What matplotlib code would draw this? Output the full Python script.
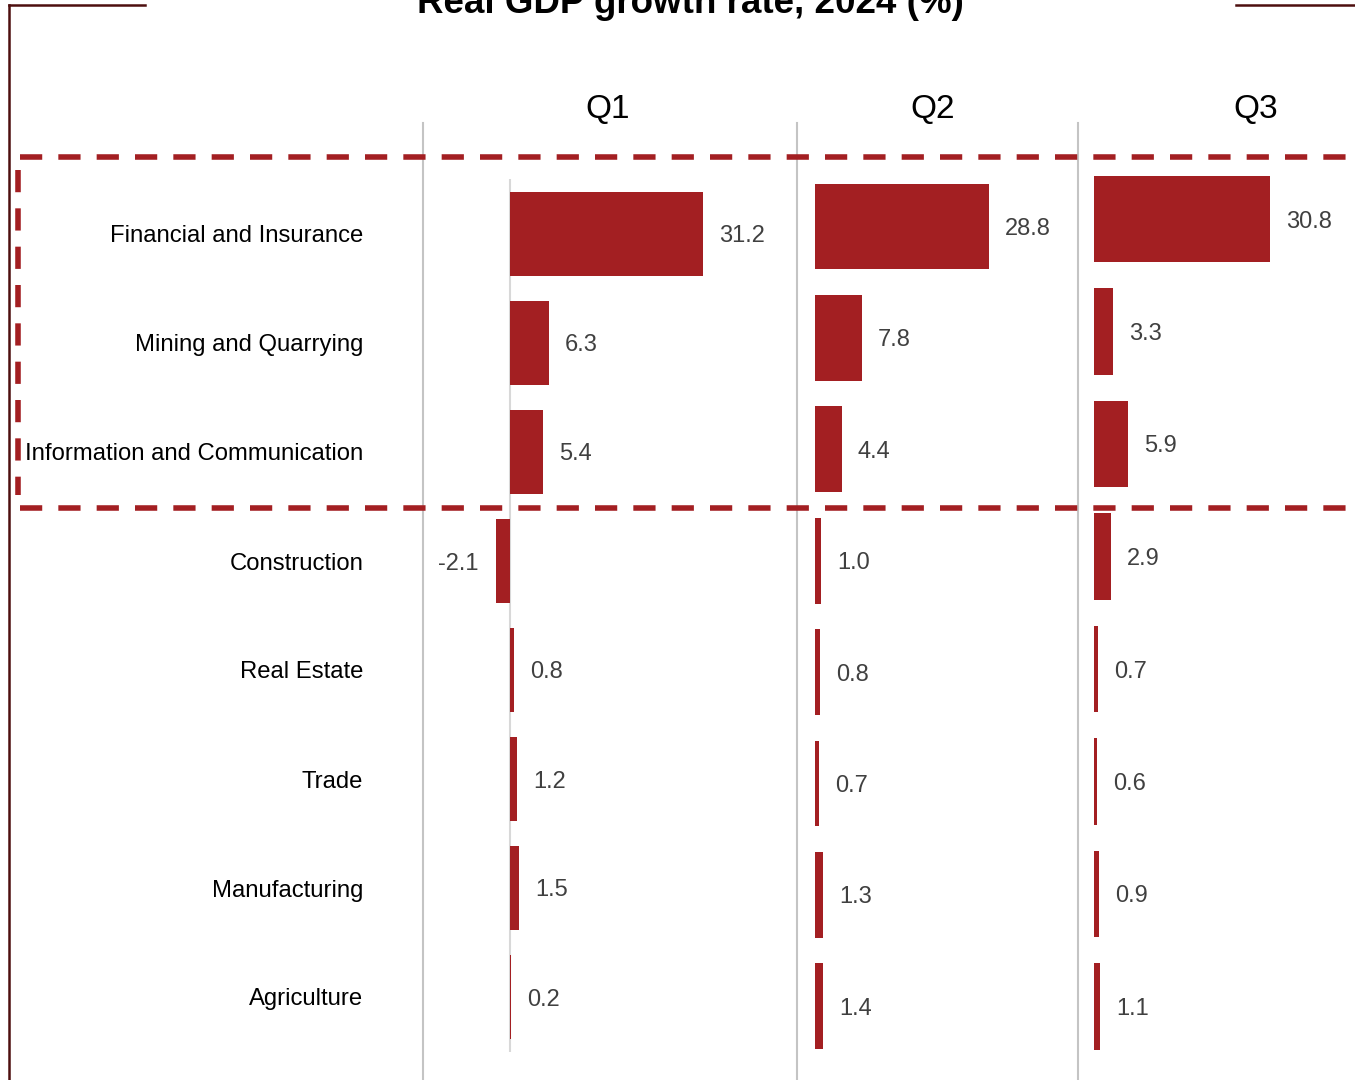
import numpy as np
import matplotlib.pyplot as plt
from matplotlib.lines import Line2D

plt.rcParams['font.family'] = ['Liberation Sans', 'DejaVu Sans']

# data
sectors = ['Financial and Insurance', 'Mining and Quarrying', 'Information and Communication',
           'Construction', 'Real Estate', 'Trade', 'Manufacturing', 'Agriculture']
quarters = ['Q1', 'Q2', 'Q3']
q1 = [31.2, 6.3, 5.4, -2.1, 0.8, 1.2, 1.5, 0.2]
q2 = [28.8, 7.8, 4.4, 1.0, 0.8, 0.7, 1.3, 1.4]
q3 = [30.8, 3.3, 5.9, 2.9, 0.7, 0.6, 0.9, 1.1]
title = 'Real GDP growth rate, 2024 (%)'

W, H = 1355, 1080
red = '#a31f22'
maroon = '#4d0f0f'
grey = '#c4c4c4'

fig = plt.figure(figsize=(W / 100, H / 100), dpi=100)

def fx(x):
    return x / W

def fy(y):
    return 1 - y / H

# panel geometry in pixels: left, right, zero x, px per unit, first row centre, row step
panels = [(423, 797, 509.5, 6.2, 234, 109),
          (797, 1078, 815, 6.04, 226.5, 111.4),
          (1078, 1355, 1094, 5.72, 219, 112.5)]
q_x = [608, 933, 1256]

pos = np.arange(len(sectors))
for k, (vals, (l, r, z, ppu, c0, step)) in enumerate(zip([q1, q2, q3], panels)):
    top = c0 - step / 2
    bot = c0 + (len(sectors) - 0.5) * step
    ax = fig.add_axes([fx(l), fy(bot), (r - l) / W, (bot - top) / H])
    ax.barh(pos, vals, height=0.77, color=red, edgecolor='none')
    ax.set_xlim((l - z) / ppu, (r - z) / ppu)
    ax.set_ylim(len(sectors) - 0.5, -0.5)
    for i, v in enumerate(vals):
        off = 11.5 if v >= 0 else -13
        ax.annotate(f'{v:.1f}', (v, i), xytext=(off, 0), textcoords='offset points',
                    ha='left' if v >= 0 else 'right', va='center_baseline',
                    fontsize=17, color='#404040')
    for s in ax.spines.values():
        s.set_visible(False)
    ax.set_xticks([])
    if k == 0:
        ax.axvline(0, color='#d8d8d8', lw=1.5, zorder=0)
        ax.set_yticks(pos)
        ax.set_yticklabels(sectors, fontsize=17.2, color='black')
        ax.tick_params(axis='y', length=0, pad=43)
    else:
        ax.set_yticks([])
    fig.text(fx(q_x[k]), fy(106), quarters[k], fontsize=24, ha='center', va='center_baseline')

# panel separators
for x in [423, 797, 1078]:
    fig.add_artist(Line2D([fx(x), fx(x)], [fy(123), 0], color=grey, lw=1.5))

# dashed highlight box
dash = dict(color=red, lw=4, linestyle=(0, (4, 2.9)))
fig.add_artist(Line2D([fx(20), 1], [fy(157), fy(157)], **dash))
fig.add_artist(Line2D([fx(20), 1], [fy(508), fy(508)], **dash))
fig.add_artist(Line2D([fx(17.5), fx(17.5)], [fy(170), fy(495)], **dash))

# frame
fig.add_artist(Line2D([fx(9), fx(145)], [fy(5), fy(5)], color=maroon, lw=1.8))
fig.add_artist(Line2D([fx(9), fx(9)], [fy(5), 0], color=maroon, lw=1.8))
fig.add_artist(Line2D([fx(1236), 1], [fy(5), fy(5)], color=maroon, lw=1.8))

fig.text(fx(690.5), fy(13), title, fontsize=26.5, fontweight='bold', ha='center', va='baseline')

fig.savefig('out.png', dpi=100)
